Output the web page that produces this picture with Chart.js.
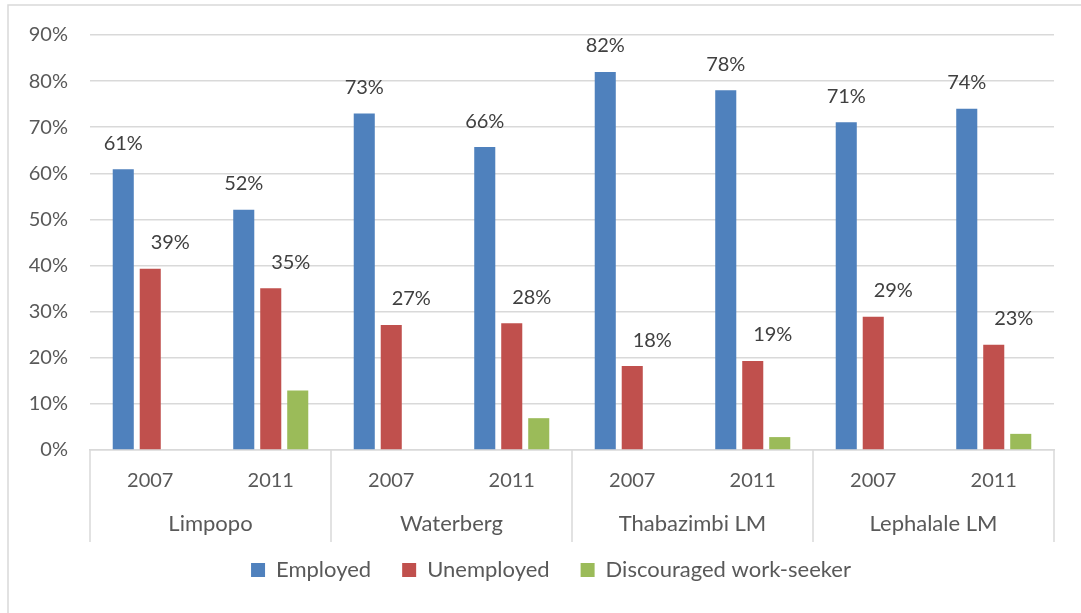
<!DOCTYPE html>
<html>
<head>
<meta charset="utf-8">
<script src="https://cdn.jsdelivr.net/npm/chart.js@4/dist/chart.umd.min.js"></script>
<style>
  html, body { margin: 0; padding: 0; background: #ffffff; }
  #wrap { width: 1081px; height: 613px; }
</style>
</head>
<body>
<div id="wrap"><canvas id="c" width="1081" height="613"></canvas></div>
<script>
const regions = ['Limpopo', 'Waterberg', 'Thabazimbi LM', 'Lephalale LM'];
const years = ['2007', '2011', '2007', '2011', '2007', '2011', '2007', '2011'];
const employed = [60.9, 52.1, 73.0, 65.7, 82.0, 78.0, 71.1, 74.0];
const unemployed = [39.3, 35.1, 27.1, 27.5, 18.2, 19.3, 28.9, 22.8];
const discouraged = [null, 12.9, null, 6.9, null, 2.8, null, 3.5];
const yTicks = [0, 10, 20, 30, 40, 50, 60, 70, 80, 90];

const FONT = 'Lato, "Open Sans", sans-serif';
const GRID = '#D9D9D9';

const framePlugin = {
  id: 'frame',
  beforeDraw(chart) {
    const ctx = chart.ctx;
    ctx.save();
    ctx.strokeStyle = GRID;
    ctx.lineWidth = 1.5;
    ctx.beginPath();
    ctx.moveTo(8, 613);
    ctx.lineTo(8, 5);
    ctx.lineTo(1081, 5);
    ctx.stroke();
    ctx.restore();
  }
};

const legendShiftPlugin = {
  id: 'legendShift',
  afterLayout(chart) {
    if (chart.legend) {
      chart.legend.left += 20;
      chart.legend.right += 20;
    }
  }
};

const groupAxisPlugin = {
  id: 'groupAxis',
  afterDraw(chart) {
    const x = chart.scales.x;
    const ctx = chart.ctx;
    const step = x.getPixelForValue(1) - x.getPixelForValue(0);
    const top = chart.chartArea.bottom;
    ctx.save();
    ctx.strokeStyle = GRID;
    ctx.lineWidth = 1.5;
    for (let g = 0; g <= regions.length; g++) {
      let px;
      if (g === 0) px = x.left;
      else if (g === regions.length) px = x.right;
      else px = x.getPixelForValue(g * 2) - step / 2;
      ctx.beginPath();
      ctx.moveTo(px, top);
      ctx.lineTo(px, top + 92);
      ctx.stroke();
    }
    ctx.fillStyle = '#595959';
    ctx.font = '22px ' + FONT;
    ctx.textAlign = 'center';
    ctx.textBaseline = 'middle';
    regions.forEach((r, g) => {
      const cx = (x.getPixelForValue(g * 2) + x.getPixelForValue(g * 2 + 1)) / 2;
      ctx.fillText(r, cx, top + 74);
    });
    ctx.restore();
  }
};

const valueLabelPlugin = {
  id: 'valueLabels',
  afterDatasetsDraw(chart) {
    const ctx = chart.ctx;
    ctx.save();
    ctx.fillStyle = '#404040';
    ctx.font = '20px ' + FONT;
    ctx.textAlign = 'center';
    ctx.textBaseline = 'middle';
    [0, 1].forEach(di => {
      const meta = chart.getDatasetMeta(di);
      const dx = di === 1 ? 20 : 0;
      meta.data.forEach((bar, i) => {
        const v = chart.data.datasets[di].data[i];
        if (v == null) return;
        ctx.fillText(Math.round(v) + '%', bar.x + dx, bar.y - 26);
      });
    });
    ctx.restore();
  }
};

new Chart(document.getElementById('c'), {
  type: 'bar',
  data: {
    labels: years,
    datasets: [
      { label: 'Employed', data: employed, backgroundColor: '#4F81BD' },
      { label: 'Unemployed', data: unemployed, backgroundColor: '#C0504D' },
      { label: 'Discouraged work-seeker', data: discouraged, backgroundColor: '#9BBB59' }
    ]
  },
  options: {
    responsive: false,
    devicePixelRatio: 1,
    animation: false,
    layout: { padding: { left: 8, right: 27, top: 35, bottom: 22 } },
    datasets: { bar: { categoryPercentage: 0.672, barPercentage: 0.78 } },
    plugins: {
      legend: {
        position: 'bottom',
        labels: {
          boxWidth: 14,
          boxHeight: 14,
          padding: 31,
          color: '#595959',
          font: { family: FONT, size: 22 }
        }
      },
      tooltip: { enabled: false }
    },
    scales: {
      x: {
        grid: { display: false, drawTicks: false },
        border: { display: true, color: GRID, width: 1.5 },
        ticks: { color: '#595959', font: { family: FONT, size: 20 }, padding: 19, maxRotation: 0, autoSkip: false },
        afterFit(s) { s.height = 78; }
      },
      y: {
        min: 0,
        max: 90,
        afterBuildTicks(s) { s.ticks = yTicks.map(v => ({ value: v })); },
        grid: { color: GRID, lineWidth: 1.5, drawTicks: false },
        border: { display: false },
        ticks: {
          color: '#595959',
          font: { family: FONT, size: 20 },
          padding: 22,
          callback: v => v + '%'
        },
        afterFit(s) { s.width = 82; }
      }
    }
  },
  plugins: [framePlugin, legendShiftPlugin, groupAxisPlugin, valueLabelPlugin]
});
</script>
</body>
</html>
